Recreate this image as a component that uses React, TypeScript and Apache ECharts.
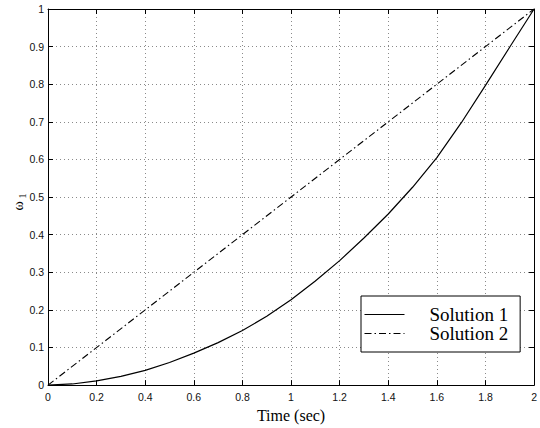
import React, { useEffect, useRef } from "react";
import * as echarts from "echarts";

const timeValues = [0, 0.1, 0.2, 0.3, 0.4, 0.5, 0.6, 0.7, 0.8, 0.9, 1.0, 1.1, 1.2, 1.3, 1.4, 1.5, 1.6, 1.7, 1.8, 1.9, 2.0];
const solution1 = [0, 0.003, 0.011, 0.023, 0.039, 0.06, 0.085, 0.113, 0.145, 0.183, 0.227, 0.277, 0.331, 0.391, 0.455, 0.526, 0.605, 0.697, 0.797, 0.899, 1.0];
const solution2Time = [0, 2];
const solution2 = [0, 1];
const xTickLabels = ["0", "0.2", "0.4", "0.6", "0.8", "1", "1.2", "1.4", "1.6", "1.8", "2"];
const yTickLabels = ["0", "0.1", "0.2", "0.3", "0.4", "0.5", "0.6", "0.7", "0.8", "0.9", "1"];
const seriesNames = ["Solution 1", "Solution 2"];

const SANS = "'Liberation Sans', Arial, Helvetica, sans-serif";
const SERIF = "'Liberation Serif', 'Times New Roman', serif";

export default function App() {
  const ref = useRef<HTMLDivElement>(null);
  useEffect(() => {
    if (!ref.current) return;
    const chart = echarts.init(ref.current, null, { renderer: "svg" });
    const gridLine = { show: true, lineStyle: { color: "#8a8a8a", width: 1, type: [1, 3] as any } };
    const axisLine = { show: true, onZero: false, lineStyle: { color: "#000", width: 1 } };
    const tick = { show: true, inside: true, length: 5, lineStyle: { color: "#000" } };
    chart.setOption({
      animation: false,
      backgroundColor: "#fff",
      grid: { left: 48, top: 9, right: 4, bottom: 34, containLabel: false },
      xAxis: [
        {
          type: "value", min: 0, max: 2, interval: 0.2, position: "bottom",
          axisLine, axisTick: tick, splitLine: gridLine,
          axisLabel: {
            margin: 6, color: "#111", fontFamily: SANS, fontSize: 10.5,
            formatter: (v: number) => xTickLabels[Math.round(v / 0.2)] ?? "",
          },
          name: "Time (sec)", nameLocation: "middle", nameGap: 14,
          nameTextStyle: { fontFamily: SERIF, fontSize: 16, color: "#000", verticalAlign: "top" },
        },
        {
          type: "value", min: 0, max: 2, interval: 0.2, position: "top",
          axisLine, axisTick: tick, splitLine: { show: false }, axisLabel: { show: false },
        },
      ],
      yAxis: [
        {
          type: "value", min: 0, max: 1, interval: 0.1, position: "left",
          axisLine, axisTick: tick, splitLine: gridLine,
          axisLabel: {
            margin: 4, color: "#111", fontFamily: SANS, fontSize: 10.5,
            formatter: (v: number) => yTickLabels[Math.round(v / 0.1)] ?? "",
          },
        },
        {
          type: "value", min: 0, max: 1, interval: 0.1, position: "right",
          axisLine, axisTick: tick, splitLine: { show: false }, axisLabel: { show: false },
        },
      ],
      legend: {
        orient: "vertical",
        left: 361,
        top: 296,
        padding: [9, 12, 9, 3],
        itemGap: 0,
        itemWidth: 40,
        itemHeight: 10,
        backgroundColor: "#fff",
        borderColor: "#000",
        borderWidth: 1,
        borderRadius: 0,
        data: seriesNames,
        itemStyle: { opacity: 0 },
        lineStyle: { width: 1 },
        textStyle: { fontFamily: SERIF, fontSize: 19, color: "#000", lineHeight: 19, padding: [0, 0, 0, 20] },
      },
      graphic: [
        {
          type: "text", x: 18, y: 206, rotation: Math.PI / 2,
          style: { text: "ω", font: `14px ${SERIF}`, fill: "#000", align: "center", verticalAlign: "middle" },
        },
        {
          type: "text", x: 22.5, y: 196, rotation: Math.PI / 2,
          style: { text: "1", font: `10px ${SERIF}`, fill: "#000", align: "center", verticalAlign: "middle" },
        },
      ],
      series: [
        {
          name: seriesNames[0], type: "line", symbol: "none", smooth: false,
          data: timeValues.map((t, i) => [t, solution1[i]]),
          lineStyle: { color: "#000", width: 1.2, type: "solid" },
          itemStyle: { color: "#000" },
        },
        {
          name: seriesNames[1], type: "line", symbol: "none",
          data: solution2Time.map((t, i) => [t, solution2[i]]),
          lineStyle: { color: "#000", width: 1.1, type: [7, 3, 1.5, 3] as any },
          itemStyle: { color: "#000" },
        },
      ],
    });
    return () => chart.dispose();
  }, []);
  return <div ref={ref} style={{ width: 540, height: 428, position: "absolute", left: 0, top: 0 }} />;
}
